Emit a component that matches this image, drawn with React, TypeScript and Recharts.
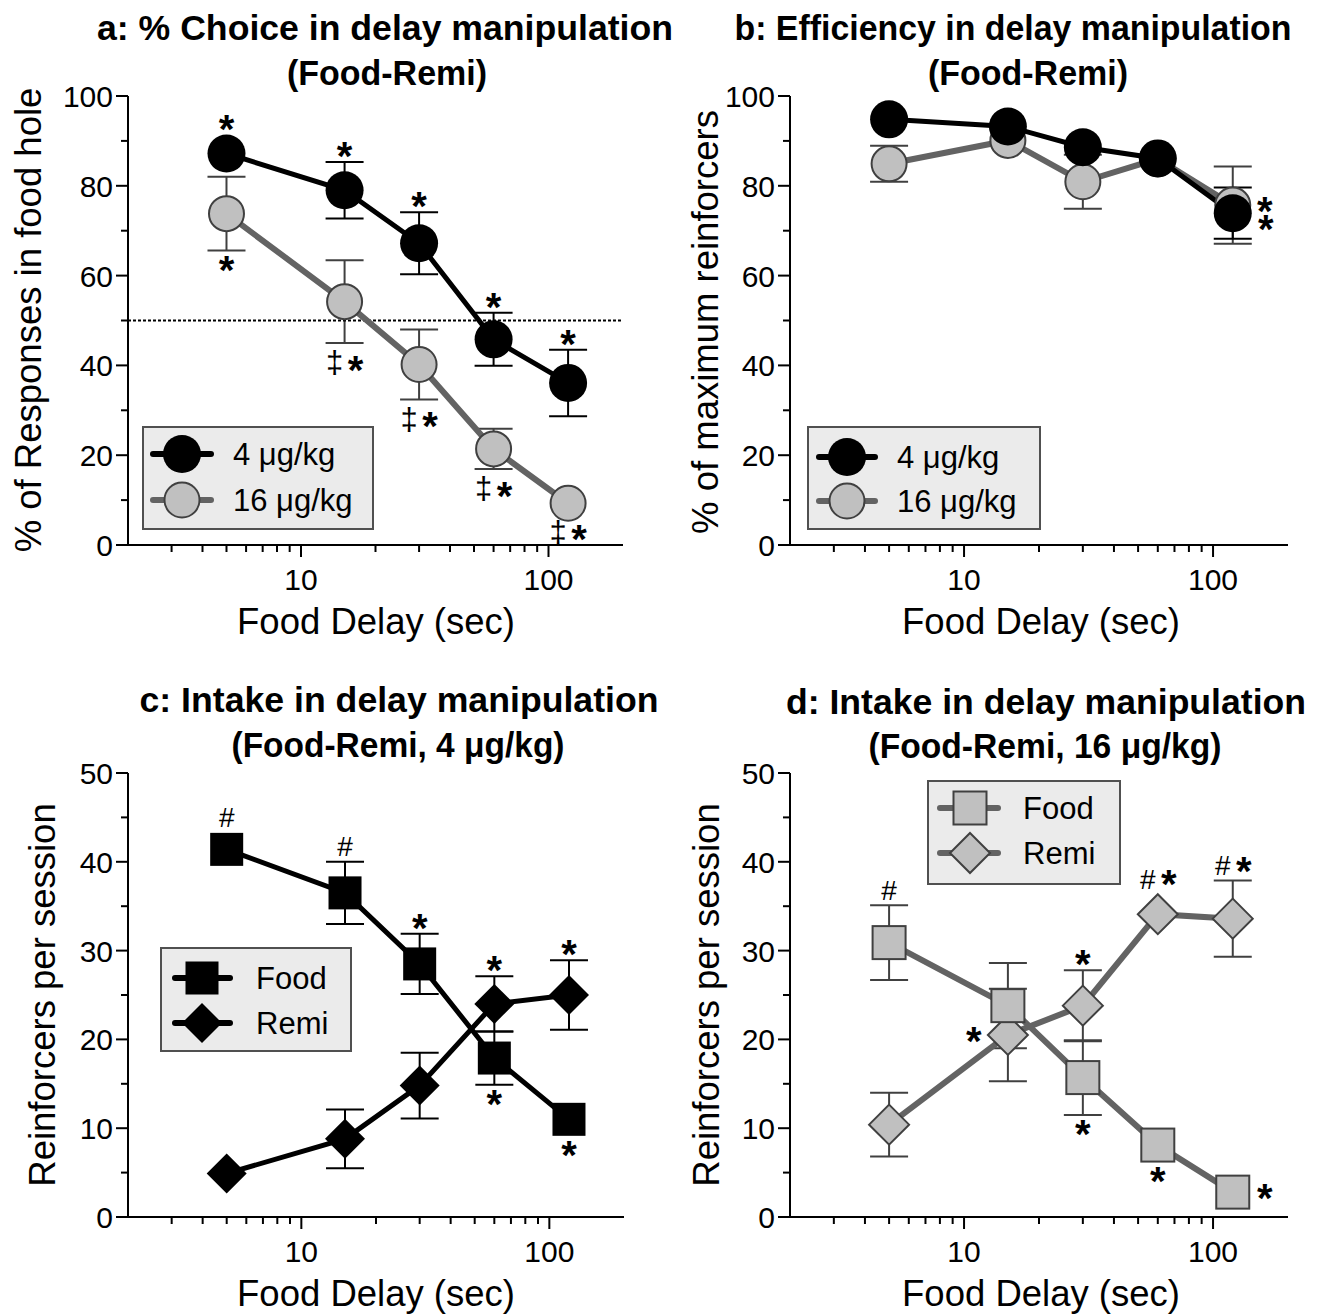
import React from 'react'
import { ComposedChart, Line, Scatter, XAxis, YAxis, ErrorBar, ReferenceLine, ReferenceDot } from 'recharts'

const FONT = '"Liberation Sans", Arial, Helvetica, sans-serif'

// food delays (sec), shared by all four panels
const DELAYS = [5, 15, 30, 60, 120]
const X_TICKS = [3, 4, 5, 6, 7, 8, 9, 10, 20, 30, 40, 50, 60, 70, 80, 90, 100]
const X_TICK_LABELS = [10, 100]
const Y_TICKS_PCT = [0, 10, 20, 30, 40, 50, 60, 70, 80, 90, 100]
const Y_LABELS_PCT = [0, 20, 40, 60, 80, 100]
const Y_TICKS_REINF = [0, 5, 10, 15, 20, 25, 30, 35, 40, 45, 50]
const Y_LABELS_REINF = [0, 10, 20, 30, 40, 50]

// a: % choice of the food hole (SEM 0 = bar hidden behind the symbol)
const CHOICE_4 = [87.2, 79.0, 67.2, 45.8, 36.1]
const CHOICE_4_SEM = [0, 6.3, 6.9, 5.9, 7.4]
const CHOICE_4_MARKS = ['*', '*', '*', '*', '*']
const CHOICE_4_SIDES = ['above', 'above', 'above', 'above', 'above']
const CHOICE_16 = [73.8, 54.2, 40.2, 21.4, 9.3]
const CHOICE_16_SEM = [8.2, 9.2, 7.8, 4.5, 0]
const CHOICE_16_MARKS = ['*', '‡*', '‡*', '‡*', '‡*']
const CHOICE_16_SIDES = ['below', 'below', 'below', 'below', 'below']

// b: efficiency
const EFF_4 = [94.8, 93.2, 88.6, 86.1, 73.9]
const EFF_4_SEM = [0, 0, 0, 0, 5.7]
const EFF_4_MARKS = ['', '', '', '', '*']
const EFF_4_SIDES = ['', '', '', '', 'rightLow']
const EFF_16 = [84.9, 90.1, 80.9, 86.0, 75.7]
const EFF_16_SEM = [4.0, 0, 6.0, 0, 8.6]
const EFF_16_MARKS = ['', '', '', '', '*']
const EFF_16_SIDES = ['', '', '', '', 'right']

// c: intake, 4 ug/kg
const FOOD_4 = [41.4, 36.5, 28.5, 17.9, 11.0]
const FOOD_4_SEM = [0, 3.5, 3.4, 3.0, 0]
const FOOD_4_MARKS = ['#', '#', '*', '*', '*']
const FOOD_4_SIDES = ['above', 'above', 'above', 'below', 'below']
const REMI_4 = [4.9, 8.8, 14.8, 24.0, 25.0]
const REMI_4_SEM = [0, 3.3, 3.7, 3.1, 3.9]
const REMI_4_MARKS = ['', '', '', '*', '*']
const REMI_4_SIDES = ['', '', '', 'above', 'above']

// d: intake, 16 ug/kg
const FOOD_16 = [30.9, 23.8, 15.7, 8.1, 2.8]
const FOOD_16_SEM = [4.2, 4.8, 4.2, 0, 0]
const FOOD_16_MARKS = ['#', '', '*', '*', '*']
const FOOD_16_SIDES = ['above', '', 'below', 'below', 'right']
const REMI_16 = [10.4, 20.5, 23.8, 34.1, 33.6]
const REMI_16_SEM = [3.6, 5.2, 4.0, 0, 4.3]
const REMI_16_MARKS = ['', '*', '*', '#*', '#*']
const REMI_16_SIDES = ['', 'left', 'above', 'above', 'above']

type Shape = 'circle' | 'square' | 'diamond'
type Tone = 'black' | 'gray'

interface Series {
  key: string
  values: number[]
  sem: number[]
  marks: string[]
  sides: string[]
  shape: Shape
  tone: Tone
}

interface Panel {
  left: number
  top: number
  width: number
  height: number
  margin: { top: number; right: number; bottom: number; left: number }
  plotH: number
  yMax: number
  yTicks: number[]
  yLabels: number[]
  refY?: number
  series: Series[]
}

const MARKER_HALF: Record<string, number> = { circleblack: 19, circlegray: 17.5, square: 16.5, diamond: 20 }

function markerHalf(shape: Shape, tone: Tone) {
  if (shape === 'circle') return MARKER_HALF['circle' + tone]
  return MARKER_HALF[shape]
}

function Marker({ cx, cy, shape, tone }: { cx: number; cy: number; shape: Shape; tone: Tone }) {
  const fill = tone === 'black' ? '#000' : '#c0c0c0'
  const stroke = tone === 'black' ? 'none' : '#404040'
  const sw = tone === 'black' ? 0 : 2
  if (shape === 'circle') {
    return <circle cx={cx} cy={cy} r={markerHalf(shape, tone)} fill={fill} stroke={stroke} strokeWidth={sw} />
  }
  if (shape === 'square') {
    const h = 16.5
    return <rect x={cx - h} y={cy - h} width={h * 2} height={h * 2} fill={fill} stroke={stroke} strokeWidth={sw} />
  }
  const h = 20
  return (
    <polygon
      points={`${cx},${cy - h} ${cx + h},${cy} ${cx},${cy + h} ${cx - h},${cy}`}
      fill={fill}
      stroke={stroke}
      strokeWidth={sw}
    />
  )
}

const GLYPH: Record<string, { size: number; weight: number; lift: number }> = {
  '*': { size: 40, weight: 700, lift: 0.49 },
  '‡': { size: 31, weight: 400, lift: 0.3 },
  '#': { size: 28, weight: 400, lift: 0.36 },
}

function Annotation({ cx, cy, text, side, onMarker }: { cx: number; cy: number; text: string; side: string; onMarker: boolean }) {
  const chars = Array.from(text)
  const dagger = text.includes('‡')
  const h = dagger ? 22 : text.includes('#') ? 17 : 15
  let x = cx
  let y = cy
  if (side === 'above') y = cy - (text.includes('#') ? 7 : 4) - h / 2
  else if (side === 'below') y = cy + (dagger ? (onMarker ? 2 : 10) : 6) + h / 2
  else if (side === 'right') x = cx + 32
  else if (side === 'rightLow') { x = cx + 33; y = cy + 10 }
  else if (side === 'left') x = cx - 34
  const offs = chars.length === 2 ? [-10, 11] : [0]
  return (
    <g>
      {chars.map((c, i) => {
        const g = GLYPH[c]
        return (
          <text key={i} x={x + offs[i]} y={y + g.lift * g.size} textAnchor="middle" fontSize={g.size} fontWeight={g.weight} fontFamily={FONT} fill="#000">
            {c}
          </text>
        )
      })}
    </g>
  )
}

function XTick(props: any) {
  const { x, y, payload } = props
  const major = X_TICK_LABELS.includes(payload.value)
  return (
    <g>
      <line x1={x} x2={x} y1={y} y2={y + (major ? 12 : 7)} stroke="#000" strokeWidth={2} />
      {major && (
        <text x={x} y={y + 45} textAnchor="middle" fontSize={30} fontFamily={FONT} fill="#000">
          {payload.value}
        </text>
      )}
    </g>
  )
}

function YTick(props: any) {
  const { x, y, payload, labels } = props
  const major = labels.includes(payload.value)
  return (
    <g>
      <line x1={x} x2={x - (major ? 12 : 7)} y1={y} y2={y} stroke="#000" strokeWidth={2} />
      {major && (
        <text x={x - 15} y={y + 11} textAnchor="end" fontSize={30} fontFamily={FONT} fill="#000">
          {payload.value}
        </text>
      )}
    </g>
  )
}

function buildRows(p: Panel) {
  return DELAYS.map((d, i) => {
    const r: Record<string, number> = { delay: d }
    p.series.forEach((s) => {
      r[s.key] = s.values[i]
      r[s.key + 'Sem'] = s.sem[i]
    })
    return r
  })
}

// axes shared by the two stacked layers; `visible` false keeps the same geometry without drawing
function axes(p: Panel, visible: boolean) {
  return [
    <XAxis
      key="x"
      dataKey="delay"
      type="number"
      scale="log"
      domain={[2, 200]}
      ticks={X_TICKS}
      interval={0}
      tickSize={0}
      tickMargin={0}
      tickLine={false}
      tick={visible ? (tp: any) => <XTick {...tp} /> : false}
      axisLine={visible ? { stroke: '#000', strokeWidth: 2 } : false}
      height={30}
      allowDataOverflow
    />,
    <YAxis
      key="y"
      type="number"
      domain={[0, p.yMax]}
      ticks={p.yTicks}
      interval={0}
      tickSize={0}
      tickMargin={0}
      tickLine={false}
      tick={visible ? (tp: any) => <YTick {...tp} labels={p.yLabels} /> : false}
      axisLine={visible ? { stroke: '#000', strokeWidth: 2 } : false}
      width={60}
      allowDataOverflow
    />,
  ]
}

function PanelChart({ p }: { p: Panel }) {
  const rows = buildRows(p)
  const ppu = p.plotH / p.yMax

  const notes: React.ReactNode[] = []
  p.series.forEach((s) => {
    s.marks.forEach((m, i) => {
      if (!m) return
      const side = s.sides[i]
      const v = s.values[i]
      const e = s.sem[i]
      const half = markerHalf(s.shape, s.tone) / ppu
      const onMarker = half > e
      const anchor = side === 'above' ? Math.max(v + e, v + half) : side === 'below' ? Math.min(v - e, v - half) : v
      notes.push(
        <ReferenceDot
          key={`${s.key}-n${i}`}
          x={DELAYS[i]}
          y={anchor}
          r={1}
          ifOverflow="visible"
          shape={(dp: any) => <Annotation cx={dp.cx} cy={dp.cy} text={m} side={side} onMarker={onMarker} />}
        />
      )
    })
  })

  return (
    <div style={{ position: 'absolute', left: p.left, top: p.top, width: p.width, height: p.height }}>
      {/* bottom layer: error bars only, so the markers above cover them */}
      <div style={{ position: 'absolute', left: 0, top: 0 }}>
        <ComposedChart width={p.width} height={p.height} data={rows} margin={p.margin}>
          {axes(p, false)}
          {p.series.map((s) => (
            <Line key={s.key} dataKey={s.key} stroke="none" dot={false} activeDot={false} isAnimationActive={false}>
              <ErrorBar dataKey={s.key + 'Sem'} direction="y" width={19} strokeWidth={2} stroke={s.tone === 'black' ? '#000' : '#404040'} />
            </Line>
          ))}
        </ComposedChart>
      </div>
      {/* top layer: axes, lines, markers and significance marks */}
      <div style={{ position: 'absolute', left: 0, top: 0 }}>
        <ComposedChart width={p.width} height={p.height} data={rows} margin={p.margin}>
          {axes(p, true)}
          {p.refY != null && <ReferenceLine y={p.refY} stroke="#000" strokeWidth={2} strokeDasharray="3 2" />}
          {p.series.map((s) => (
            <Line
              key={s.key}
              dataKey={s.key}
              type="linear"
              stroke={s.tone === 'black' ? '#000' : '#636363'}
              strokeWidth={s.tone === 'black' ? 5 : 6}
              dot={false}
              activeDot={false}
              isAnimationActive={false}
            />
          ))}
          {p.series.map((s) => (
            <Scatter
              key={s.key + '-m'}
              dataKey={s.key}
              isAnimationActive={false}
              shape={(sp: any) => <Marker cx={sp.cx} cy={sp.cy} shape={s.shape} tone={s.tone} />}
            />
          ))}
          {notes}
        </ComposedChart>
      </div>
    </div>
  )
}

const PANELS: Panel[] = [
  {
    left: 0, top: 0, width: 660, height: 660,
    margin: { top: 96, right: 37, bottom: 85, left: 68 },
    plotH: 449, yMax: 100, yTicks: Y_TICKS_PCT, yLabels: Y_LABELS_PCT, refY: 50,
    series: [
      { key: 'hi', values: CHOICE_16, sem: CHOICE_16_SEM, marks: CHOICE_16_MARKS, sides: CHOICE_16_SIDES, shape: 'circle', tone: 'gray' },
      { key: 'lo', values: CHOICE_4, sem: CHOICE_4_SEM, marks: CHOICE_4_MARKS, sides: CHOICE_4_SIDES, shape: 'circle', tone: 'black' },
    ],
  },
  {
    left: 660, top: 0, width: 679, height: 660,
    margin: { top: 96, right: 51, bottom: 85, left: 70 },
    plotH: 449, yMax: 100, yTicks: Y_TICKS_PCT, yLabels: Y_LABELS_PCT,
    series: [
      { key: 'hi', values: EFF_16, sem: EFF_16_SEM, marks: EFF_16_MARKS, sides: EFF_16_SIDES, shape: 'circle', tone: 'gray' },
      { key: 'lo', values: EFF_4, sem: EFF_4_SEM, marks: EFF_4_MARKS, sides: EFF_4_SIDES, shape: 'circle', tone: 'black' },
    ],
  },
  {
    left: 0, top: 660, width: 660, height: 655,
    margin: { top: 113, right: 36, bottom: 68, left: 68 },
    plotH: 444, yMax: 50, yTicks: Y_TICKS_REINF, yLabels: Y_LABELS_REINF,
    series: [
      { key: 'food', values: FOOD_4, sem: FOOD_4_SEM, marks: FOOD_4_MARKS, sides: FOOD_4_SIDES, shape: 'square', tone: 'black' },
      { key: 'remi', values: REMI_4, sem: REMI_4_SEM, marks: REMI_4_MARKS, sides: REMI_4_SIDES, shape: 'diamond', tone: 'black' },
    ],
  },
  {
    left: 660, top: 660, width: 679, height: 655,
    margin: { top: 113, right: 51, bottom: 68, left: 70 },
    plotH: 444, yMax: 50, yTicks: Y_TICKS_REINF, yLabels: Y_LABELS_REINF,
    series: [
      { key: 'remi', values: REMI_16, sem: REMI_16_SEM, marks: REMI_16_MARKS, sides: REMI_16_SIDES, shape: 'diamond', tone: 'gray' },
      { key: 'food', values: FOOD_16, sem: FOOD_16_SEM, marks: FOOD_16_MARKS, sides: FOOD_16_SIDES, shape: 'square', tone: 'gray' },
    ],
  },
]

const TITLES = [
  { text: 'a: % Choice in delay manipulation', x: 385, y: 40, len: 576 },
  { text: '(Food-Remi)', x: 387, y: 85, len: 200 },
  { text: 'b: Efficiency in delay manipulation', x: 1013, y: 40, len: 557 },
  { text: '(Food-Remi)', x: 1028, y: 85, len: 200 },
  { text: 'c: Intake in delay manipulation', x: 399, y: 712, len: 519 },
  { text: '(Food-Remi, 4 μg/kg)', x: 398, y: 757, len: 333 },
  { text: 'd: Intake in delay manipulation', x: 1046, y: 714, len: 520 },
  { text: '(Food-Remi, 16 μg/kg)', x: 1045, y: 758, len: 353 },
]

const Y_TITLES = [
  { text: '% of Responses in food hole', x: 28, y: 320 },
  { text: '% of maximum reinforcers', x: 705, y: 322 },
  { text: 'Reinforcers per session', x: 42, y: 995 },
  { text: 'Reinforcers per session', x: 706, y: 995 },
]

const X_TITLES = [
  { x: 376, y: 634 },
  { x: 1041, y: 634 },
  { x: 376, y: 1306 },
  { x: 1041, y: 1306 },
]

const DOSE_LABELS = ['4 μg/kg', '16 μg/kg']
const REINF_LABELS = ['Food', 'Remi']

interface LegendDef {
  x: number
  y: number
  w: number
  h: number
  rowY: number[]
  cx: number
  lx1: number
  lx2: number
  tx: number
  labels: string[]
  shapes: Shape[]
  tones: Tone[]
}

const LEGENDS: LegendDef[] = [
  { x: 143, y: 427, w: 230, h: 102, rowY: [454, 500], cx: 182, lx1: 153, lx2: 211, tx: 233, labels: DOSE_LABELS, shapes: ['circle', 'circle'], tones: ['black', 'gray'] },
  { x: 808, y: 427, w: 232, h: 102, rowY: [457, 501], cx: 847, lx1: 819, lx2: 875, tx: 897, labels: DOSE_LABELS, shapes: ['circle', 'circle'], tones: ['black', 'gray'] },
  { x: 161, y: 948, w: 190, h: 103, rowY: [978, 1023], cx: 202, lx1: 175, lx2: 230, tx: 256, labels: REINF_LABELS, shapes: ['square', 'diamond'], tones: ['black', 'black'] },
  { x: 928, y: 781, w: 192, h: 103, rowY: [808, 853], cx: 970, lx1: 940, lx2: 998, tx: 1023, labels: REINF_LABELS, shapes: ['square', 'diamond'], tones: ['gray', 'gray'] },
]

function LegendBox({ l }: { l: LegendDef }) {
  return (
    <g>
      <rect x={l.x} y={l.y} width={l.w} height={l.h} fill="#ebebeb" stroke="#505050" strokeWidth={2} />
      {l.labels.map((lab, i) => (
        <g key={lab}>
          <line x1={l.lx1} x2={l.lx2} y1={l.rowY[i]} y2={l.rowY[i]} stroke={l.tones[i] === 'black' ? '#000' : '#636363'} strokeWidth={6} strokeLinecap="round" />
          <Marker cx={l.cx} cy={l.rowY[i]} shape={l.shapes[i]} tone={l.tones[i]} />
          <text x={l.tx} y={l.rowY[i] + 11} fontSize={31} fontFamily={FONT} fill="#000">
            {lab}
          </text>
        </g>
      ))}
    </g>
  )
}

export default function App() {
  return (
    <div style={{ position: 'absolute', left: 0, top: 0, width: 1339, height: 1315, background: '#fff', overflow: 'hidden' }}>
      {PANELS.map((p, i) => (
        <PanelChart key={i} p={p} />
      ))}
      <svg width={1339} height={1315} style={{ position: 'absolute', left: 0, top: 0, pointerEvents: 'none' }}>
        {TITLES.map((t, i) => (
          <text key={i} x={t.x} y={t.y} textAnchor="middle" fontSize={35.5} fontWeight={700} fontFamily={FONT} textLength={t.len} lengthAdjust="spacingAndGlyphs" fill="#000">
            {t.text}
          </text>
        ))}
        {Y_TITLES.map((t, i) => (
          <text key={i} x={t.x} y={t.y} transform={`rotate(-90 ${t.x} ${t.y})`} textAnchor="middle" dominantBaseline="central" fontSize={36.5} fontFamily={FONT} fill="#000">
            {t.text}
          </text>
        ))}
        {X_TITLES.map((t, i) => (
          <text key={i} x={t.x} y={t.y} textAnchor="middle" fontSize={36.5} fontFamily={FONT} fill="#000">
            Food Delay (sec)
          </text>
        ))}
        {LEGENDS.map((l, i) => (
          <LegendBox key={i} l={l} />
        ))}
      </svg>
    </div>
  )
}
